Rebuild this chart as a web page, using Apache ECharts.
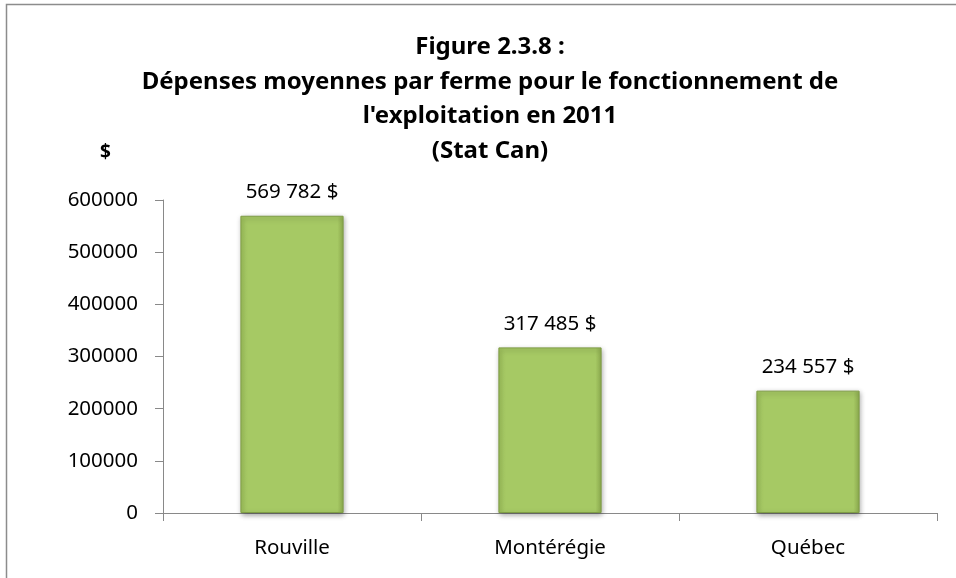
<!DOCTYPE html>
<html lang="fr">
<head>
<meta charset="UTF-8">
<title>Figure 2.3.8</title>
<script src="https://cdn.jsdelivr.net/npm/echarts@6/dist/echarts.min.js"></script>
<style>
    html, body { margin: 0; padding: 0; background: #fff; }
    #chart { width: 956px; height: 578px; }
</style>
</head>
<body>
<div id="chart"></div>
<script type="text/javascript">
    // données
    var regions = ['Rouville', 'Montérégie', 'Québec'];
    var depenses = [569782, 317485, 234557];
    var yTicks = [0, 100000, 200000, 300000, 400000, 500000, 600000];

    var font = '"Noto Sans", "DejaVu Sans", sans-serif';
    var axisGrey = '#898989';

    function montant(v) {
        // 569782 -> "569 782 $"
        return String(v).replace(/\B(?=(\d{3})+(?!\d))/g, ' ') + ' $';
    }

    var myChart = echarts.init(document.getElementById('chart'));
    var option = {
        animation: false,
        backgroundColor: '#fff',
        title: [{
            text: 'Figure 2.3.8 :\nDépenses moyennes par ferme pour le fonctionnement de\nl\'exploitation en 2011\n(Stat Can)',
            left: 485,
            top: 25,
            textAlign: 'center',
            textStyle: {
                fontFamily: font,
                fontSize: 24,
                fontWeight: 'bold',
                color: '#000',
                lineHeight: 34.5
            }
        }, {
            text: '$',
            left: 95,
            top: 138,
            textStyle: {
                fontFamily: font,
                fontSize: 19,
                fontWeight: 'bold',
                color: '#000'
            }
        }],
        grid: {
            left: 163,
            right: 19,
            top: 200,
            bottom: 65
        },
        xAxis: {
            type: 'category',
            data: regions,
            axisLine: { lineStyle: { color: axisGrey, width: 1 } },
            axisTick: { show: true, length: 8, lineStyle: { color: axisGrey } },
            axisLabel: {
                margin: 25,
                fontFamily: font,
                fontSize: 20.5,
                color: '#000'
            }
        },
        yAxis: {
            type: 'value',
            min: yTicks[0],
            max: yTicks[yTicks.length - 1],
            interval: yTicks[1] - yTicks[0],
            splitLine: { show: false },
            axisLine: { show: true, lineStyle: { color: axisGrey, width: 1 } },
            axisTick: { show: true, length: 8, lineStyle: { color: axisGrey } },
            axisLabel: {
                margin: 25,
                fontFamily: font,
                fontSize: 20.5,
                color: '#000',
                formatter: function (v) { return String(v); }
            }
        },
        series: [{
            type: 'bar',
            data: depenses,
            barWidth: '40%',
            itemStyle: {
                color: new echarts.graphic.LinearGradient(0, 0, 1, 0, [
                    { offset: 0, color: '#9dc05a' },
                    { offset: 0.06, color: '#a6c964' },
                    { offset: 0.94, color: '#a6c964' },
                    { offset: 1, color: '#8fae50' }
                ]),
                borderColor: '#7f9d45',
                borderWidth: 1,
                shadowColor: 'rgba(0, 0, 0, 0.35)',
                shadowBlur: 5,
                shadowOffsetX: 1,
                shadowOffsetY: 2
            },
            label: {
                show: true,
                position: 'top',
                distance: 13,
                fontFamily: font,
                fontSize: 20.5,
                color: '#000',
                formatter: function (p) { return montant(p.value); }
            }
        }],
        graphic: [{
            // cadre du graphique (bords haut et gauche visibles)
            type: 'polyline',
            silent: true,
            shape: { points: [[6.5, 578], [6.5, 4.5], [956, 4.5]] },
            style: { stroke: '#8c8c8c', lineWidth: 1.5, fill: null }
        }]
    };
    myChart.setOption(option);
</script>
</body>
</html>
